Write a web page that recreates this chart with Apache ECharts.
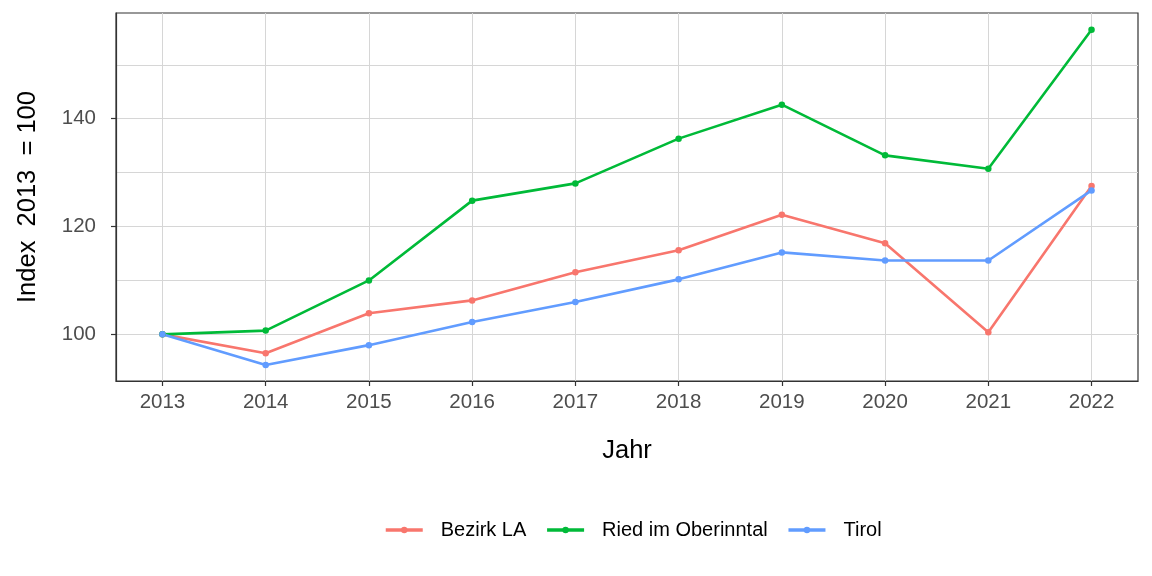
<!DOCTYPE html>
<html>
<head>
<meta charset="utf-8">
<script src="https://cdn.jsdelivr.net/npm/echarts@6/dist/echarts.min.js"></script>
<style>
html,body{margin:0;padding:0;background:#fff;}
#chart{width:1152px;height:576px;}
</style>
</head>
<body>
<div id="chart"></div>
<script>
const years = [2013, 2014, 2015, 2016, 2017, 2018, 2019, 2020, 2021, 2022];
const bezirkLA = [100, 96.5, 103.9, 106.3, 111.5, 115.6, 122.2, 116.9, 100.4, 127.5];
const riedImOberinntal = [100, 100.7, 110.0, 124.8, 128.0, 136.3, 142.6, 133.2, 130.7, 156.5];
const tirol = [100, 94.3, 98.0, 102.3, 106.0, 110.2, 115.2, 113.7, 113.7, 126.7];
const yLabelTicks = [100, 120, 140];
const yGridValues = [100, 110, 120, 130, 140, 150];

const seriesDefs = [
  { name: 'Bezirk LA', values: bezirkLA, color: '#F8766D' },
  { name: 'Ried im Oberinntal', values: riedImOberinntal, color: '#00BA38' },
  { name: 'Tirol', values: tirol, color: '#619CFF' }
];

const chart = echarts.init(document.getElementById('chart'), null, { renderer: 'canvas' });
const font = '"Liberation Sans", Arial, sans-serif';

const option = {
  animation: false,
  backgroundColor: '#ffffff',
  textStyle: { fontFamily: font },
  grid: {
    left: 116, right: 14, top: 13, bottom: 195,
    show: true, borderColor: '#333333', borderWidth: 1.2, backgroundColor: 'transparent'
  },
  legend: {
    left: 379, top: 515,
    itemWidth: 37, itemHeight: 8, itemGap: 19,
    lineStyle: { width: 3.5 },
    textStyle: { fontSize: 20, color: '#000000', fontFamily: font, padding: [0, 0, 0, 13] },
    data: seriesDefs.map(s => s.name)
  },
  xAxis: {
    type: 'value',
    min: 2012.55, max: 2022.45,
    name: 'Jahr', nameLocation: 'middle', nameGap: 57,
    nameTextStyle: { fontSize: 25.5, color: '#000000', fontFamily: font },
    axisLine: { show: true, lineStyle: { color: '#333333', width: 1.2 } },
    axisTick: { show: true, length: 5, lineStyle: { color: '#333333', width: 1.2 }, customValues: years },
    axisLabel: { customValues: years, fontSize: 20.5, color: '#4D4D4D', margin: 11, formatter: v => String(v), fontFamily: font },
    splitLine: { show: true, lineStyle: { color: '#D6D6D6', width: 1 } }
  },
  yAxis: [
    {
      type: 'value',
      min: 91.35, max: 159.6,
      axisLine: { show: false },
      axisTick: { show: false, customValues: yGridValues },
      axisLabel: { show: false },
      splitLine: { show: true, lineStyle: { color: '#D6D6D6', width: 1 } }
    },
    {
      type: 'value',
      position: 'left',
      min: 91.35, max: 159.6,
      name: 'Index  2013  = 100', nameLocation: 'middle', nameGap: 75,
      nameTextStyle: { fontSize: 25.5, color: '#000000', fontFamily: font },
      axisLine: { show: true, lineStyle: { color: '#333333', width: 1.2 } },
      axisTick: { show: true, length: 5, lineStyle: { color: '#333333', width: 1.2 }, customValues: yLabelTicks },
      axisLabel: { customValues: yLabelTicks, fontSize: 20.5, color: '#4D4D4D', margin: 20, fontFamily: font },
      splitLine: { show: false }
    }
  ],
  series: seriesDefs.map(s => ({
    name: s.name,
    type: 'line',
    yAxisIndex: 0,
    data: years.map((y, i) => [y, s.values[i]]),
    symbol: 'circle',
    symbolSize: 6.5,
    showSymbol: true,
    itemStyle: { color: s.color },
    lineStyle: { color: s.color, width: 2.6 },
    emphasis: { disabled: true }
  }))
};
chart.setOption(option);
</script>
</body>
</html>
